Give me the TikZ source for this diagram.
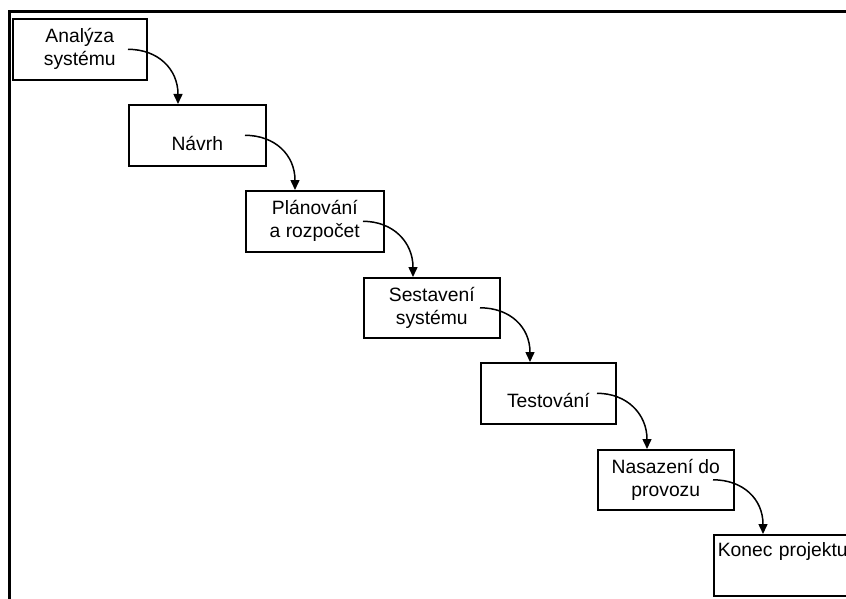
\documentclass[tikz,border=0pt]{standalone}
\usepackage{fontspec}
\setmainfont{Liberation Sans}
\usetikzlibrary{arrows.meta,calc}
\begin{document}
\begin{tikzpicture}[x=1pt,y=-1pt,
  stage/.style={draw, line width=1.6pt, minimum height=61pt, inner sep=0pt,
    align=center, anchor=north west, font=\fontsize{19.3}{23}\selectfont},
  flow/.style={line width=1.5pt, -{Triangle[length=10pt,width=9pt]}},
  frame/.style={line width=3pt}]
\useasboundingbox (0,0) rectangle (846,599);
\draw[frame] (846,12) -- (9,12) -- (9,599);
\node[stage, minimum width=134pt] (a) at (12,18) {Analýza\\systému};
\node[stage, minimum width=137pt] (b) at (128,104) {\raisebox{-8pt}[\height][\depth]{Návrh}};
\node[stage, minimum width=138pt] (c) at (245,190) {Plánování\\a rozpočet};
\node[stage, minimum width=136pt, minimum height=60pt] (d) at (363,277) {Sestavení\\systému};
\node[stage, minimum width=135pt] (e) at (480,362) {\raisebox{-7pt}[\height][\depth]{Testování}};
\node[stage, minimum width=136pt, minimum height=60pt] (f) at (597,449) {Nasazení do\\provozu};
\node[stage, minimum width=160pt, text width=152pt, align=left, inner xsep=4pt] (g) at (713,534) {\raisebox{14pt}[\height][\depth]{Konec projektu}};
\foreach \p/\q in {a/b, b/c, c/d, d/e, e/f, f/g} {
  \coordinate (\p-out) at (\q.west |- \p.center);
  \coordinate (\q-in) at ($(\q.north west)+(50,0)$);
  \draw[flow] (\p-out) .. controls +(30,0) and +(0,-35) .. (\q-in);
}
\end{tikzpicture}
\end{document}
